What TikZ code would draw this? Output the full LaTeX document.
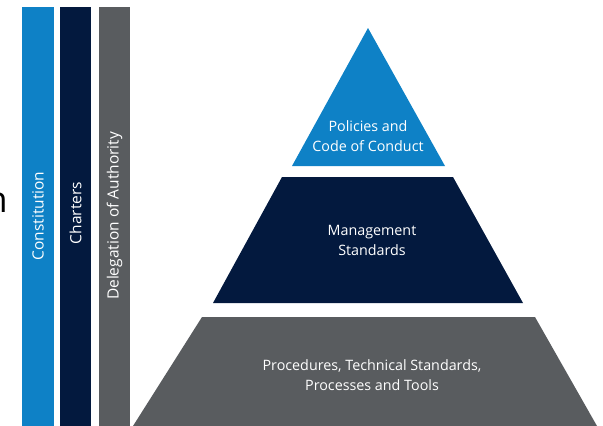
\documentclass[tikz,border=0pt]{standalone}
\usepackage{fontspec}
\setmainfont{Open Sans}

\definecolor{govblue}{RGB}{14,129,198}
\definecolor{govnavy}{RGB}{3,25,62}
\definecolor{govgrey}{RGB}{89,92,95}

\tikzset{
    bartext/.style={text=white, inner sep=0pt, rotate=90, font=\fontsize{15.5}{18}\selectfont},
    tiertext/.style={text=white, align=center, inner sep=0pt, font=\fontsize{14.3}{20}\selectfont},
}

\begin{document}
\begin{tikzpicture}[x=1pt, y=-1pt]
    \useasboundingbox (0,0) rectangle (603,426);

    % cut-off word on the far left
    \node[anchor=base east, inner sep=0pt, font=\fontsize{36}{36}\selectfont] (cut) at (8,212) {n};

    % Vertical bars
    \fill[govblue] (22,7) rectangle (54,426);
    \fill[govnavy] (60,7) rectangle (91,426);
    \fill[govgrey] (99,7) rectangle (130,426);
    \node[bartext] (constitution) at (38,216) {Constitution};
    \node[bartext] (charters) at (75.5,213) {Charters};
    \node[bartext] (delegation) at (114.5,216) {Delegation of Authority};

    % 1) top of the pyramid
    \fill[govblue] (368,28) -- (445,166) -- (292,166) -- cycle;
    \node[tiertext] (policies) at (368,136) {Policies and\\Code of Conduct};

    % 2) middle layer
    \fill[govnavy] (282,177) -- (453,177) -- (523,303) -- (213,303) -- cycle;
    \node[tiertext] (management) at (372,240) {Management\\Standards};

    % 3) bottom layer
    \fill[govgrey] (202,317) -- (535,317) -- (597,426) -- (133,426) -- cycle;
    \node[tiertext] (procedures) at (372,375) {Procedures, Technical Standards,\\Processes and Tools};
\end{tikzpicture}
\end{document}
